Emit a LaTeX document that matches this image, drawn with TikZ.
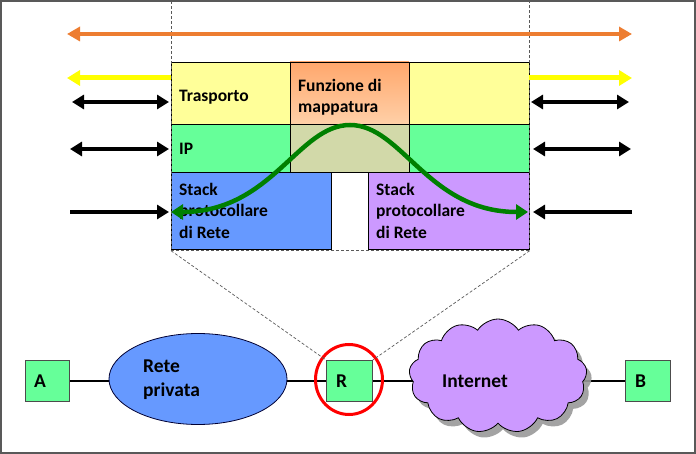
\documentclass[tikz,border=0pt]{standalone}
\usepackage{fontspec}
\setmainfont{Carlito}
\usetikzlibrary{arrows.meta,shapes.symbols,shapes.geometric,shadows,backgrounds}
\definecolor{cyel}{HTML}{FFFF99}
\definecolor{cgrn}{HTML}{66FF99}
\definecolor{cblu}{HTML}{6699FF}
\definecolor{cpur}{HTML}{CC99FF}
\definecolor{coli}{HTML}{D2D9A9}
\definecolor{corgT}{HTML}{FFA76C}
\definecolor{corgB}{HTML}{FFD0A8}
\definecolor{carr}{HTML}{ED7D31}
\definecolor{cyarr}{HTML}{FFFF00}
\definecolor{cgarr}{HTML}{008000}
\definecolor{cframe}{HTML}{595959}
\tikzset{
  box/.style={draw=black, line width=0.8pt, anchor=north west, inner sep=0pt, outer sep=0pt},
  lbl/.style={inner sep=0pt, align=left, font=\fontsize{17.5}{21.5}\selectfont\bfseries},
  blbl/.style={inner sep=0pt, align=left, font=\fontsize{19.5}{24}\selectfont\bfseries},
  dashline/.style={draw=cframe, line width=0.7pt, dash pattern=on 3pt off 2pt},
  oarr/.style={draw=carr, line width=4pt, {Triangle[length=13pt,width=14pt]}-{Triangle[length=13pt,width=14pt]}},
  yarr/.style={draw=cyarr, line width=5pt, -{Triangle[length=13pt,width=15pt]}},
  barr/.style={draw=black, line width=4pt},
  garr/.style={draw=cgarr, line width=4.5pt, {Triangle[length=12pt,width=15pt]}-{Triangle[length=12pt,width=15pt]}},
  netbox/.style={draw=black!70, line width=0.8pt, fill=cgrn, anchor=north west, inner sep=0pt},
}
\begin{document}
\begin{tikzpicture}[x=1pt,y=-1pt]
\useasboundingbox (0,0) rectangle (696,454);
\draw[cframe, line width=1.6pt] (0.8,0.8) rectangle (695.2,453.2);

% protocol boxes
\node[box, fill=cyel, minimum width=119, minimum height=62] (tr) at (171,62) {};
\node[box, top color=corgT, bottom color=corgB, minimum width=119, minimum height=62] (fm) at (290,62) {};
\node[box, fill=cyel, minimum width=120, minimum height=62] (tr2) at (409,62) {};
\node[box, fill=cgrn, minimum width=119, minimum height=48] (ip) at (171,124) {};
\node[box, fill=coli, minimum width=119, minimum height=48] (ipm) at (290,124) {};
\node[box, fill=cgrn, minimum width=120, minimum height=48] (ip2) at (409,124) {};
\node[box, fill=cblu, minimum width=160, minimum height=77] (sk) at (171,172) {};
\node[box, fill=cpur, minimum width=161, minimum height=77] (sk2) at (368,172) {};

% zoom frame
\node[dashline, anchor=north west, inner sep=0pt, minimum width=358, minimum height=249] (zf) at (171,1) {};

% labels
\node[lbl, anchor=base west] (trt) at (179,102) {Trasporto};
\node[lbl, anchor=base west] (ipt) at (179,155) {IP};
\node[lbl, anchor=north west] (fmt) at (298,79) {Funzione di\\mappatura};
\node[lbl, anchor=north west] (skt) at (179,183) {Stack\\protocollare\\di Rete};
\node[lbl, anchor=north west] (sk2t) at (376,183) {Stack\\protocollare\\di Rete};

% arrows
\coordinate (oL) at (67,34);
\coordinate (oR) at (632,34);
\draw[oarr] (oL) -- (oR);
\coordinate (yL) at (67,78);
\coordinate (yR) at (632,78);
\draw[yarr] (yL -| tr.west) -- (yL);
\draw[yarr] (yR -| tr2.east) -- (yR);
\coordinate (b1L) at (72,102);
\coordinate (b1R) at (629,102);
\draw[barr, {Triangle[length=12pt,width=14pt]}-{Triangle[length=12pt,width=14pt]}] (b1L) -- ([xshift=-2pt]b1L -| tr.west);
\draw[barr, {Triangle[length=12pt,width=14pt]}-{Triangle[length=12pt,width=14pt]}] ([xshift=2pt]b1R -| tr2.east) -- (b1R);
\coordinate (b2L) at (70,149);
\coordinate (b2R) at (631,149);
\draw[barr, {Triangle[length=12pt,width=14pt]}-{Triangle[length=12pt,width=14pt]}] (b2L) -- ([xshift=-2pt]b2L -| ip.west);
\draw[barr, {Triangle[length=12pt,width=14pt]}-{Triangle[length=12pt,width=14pt]}] ([xshift=4pt]b2R -| ip2.east) -- (b2R);
\coordinate (b3L) at (70,212);
\coordinate (b3R) at (632,212);
\draw[barr, -{Triangle[length=12pt,width=14pt]}] (b3L) -- ([xshift=-2pt]b3L -| sk.west);
\draw[barr, -{Triangle[length=12pt,width=14pt]}] (b3R) -- ([xshift=4pt]b3R -| sk2.east);

% green curve
\coordinate (gL) at (171,212);
\coordinate (gT) at (350,125);
\coordinate (gR) at (528,212);
\draw[garr] (gL) .. controls (272,212) and (298,125) .. (gT) .. controls (402,125) and (428,212) .. (gR);

% bottom network
\node[netbox, minimum width=44, minimum height=41] (A) at (25,360) {};
\node[draw=black!80!blue, line width=0.8pt, fill=cblu, ellipse, minimum width=178, minimum height=91] (ell) at (198,379) {};
\node[netbox, minimum width=46, minimum height=41] (R) at (326,360) {};
\node[cloud, cloud puffs=13, cloud puff arc=115, cloud ignores aspect, draw=black, line width=0.8pt, fill=cpur, minimum width=178, minimum height=114, drop shadow={shadow xshift=5pt, shadow yshift=-6pt, fill=gray!80, opacity=0.9}] (cl) at (498,376) {};
\node[netbox, minimum width=45, minimum height=41] (B) at (625,360) {};
\begin{pgfonlayer}{background}
\draw[black, line width=2.5pt] (A.center) -- (B.center);
\end{pgfonlayer}
\node[draw=red, line width=3pt, ellipse, minimum width=67, minimum height=70] (rc) at (349,379.5) {};

\draw[dashline] (zf.south west) -- (R.north west);
\draw[dashline] (zf.south east) -- (R.north east);

\node[blbl, anchor=west] (At) at ([xshift=9pt]A.west) {A};
\node[blbl, anchor=west] (Rt) at ([xshift=10pt]R.west) {R};
\node[blbl, anchor=west] (Bt) at ([xshift=10pt]B.west) {B};
\node[blbl, anchor=north west] (ellt) at (143,360) {Rete\\privata};
\node[blbl, anchor=west] (clt) at (442,381) {Internet};
\end{tikzpicture}
\end{document}
